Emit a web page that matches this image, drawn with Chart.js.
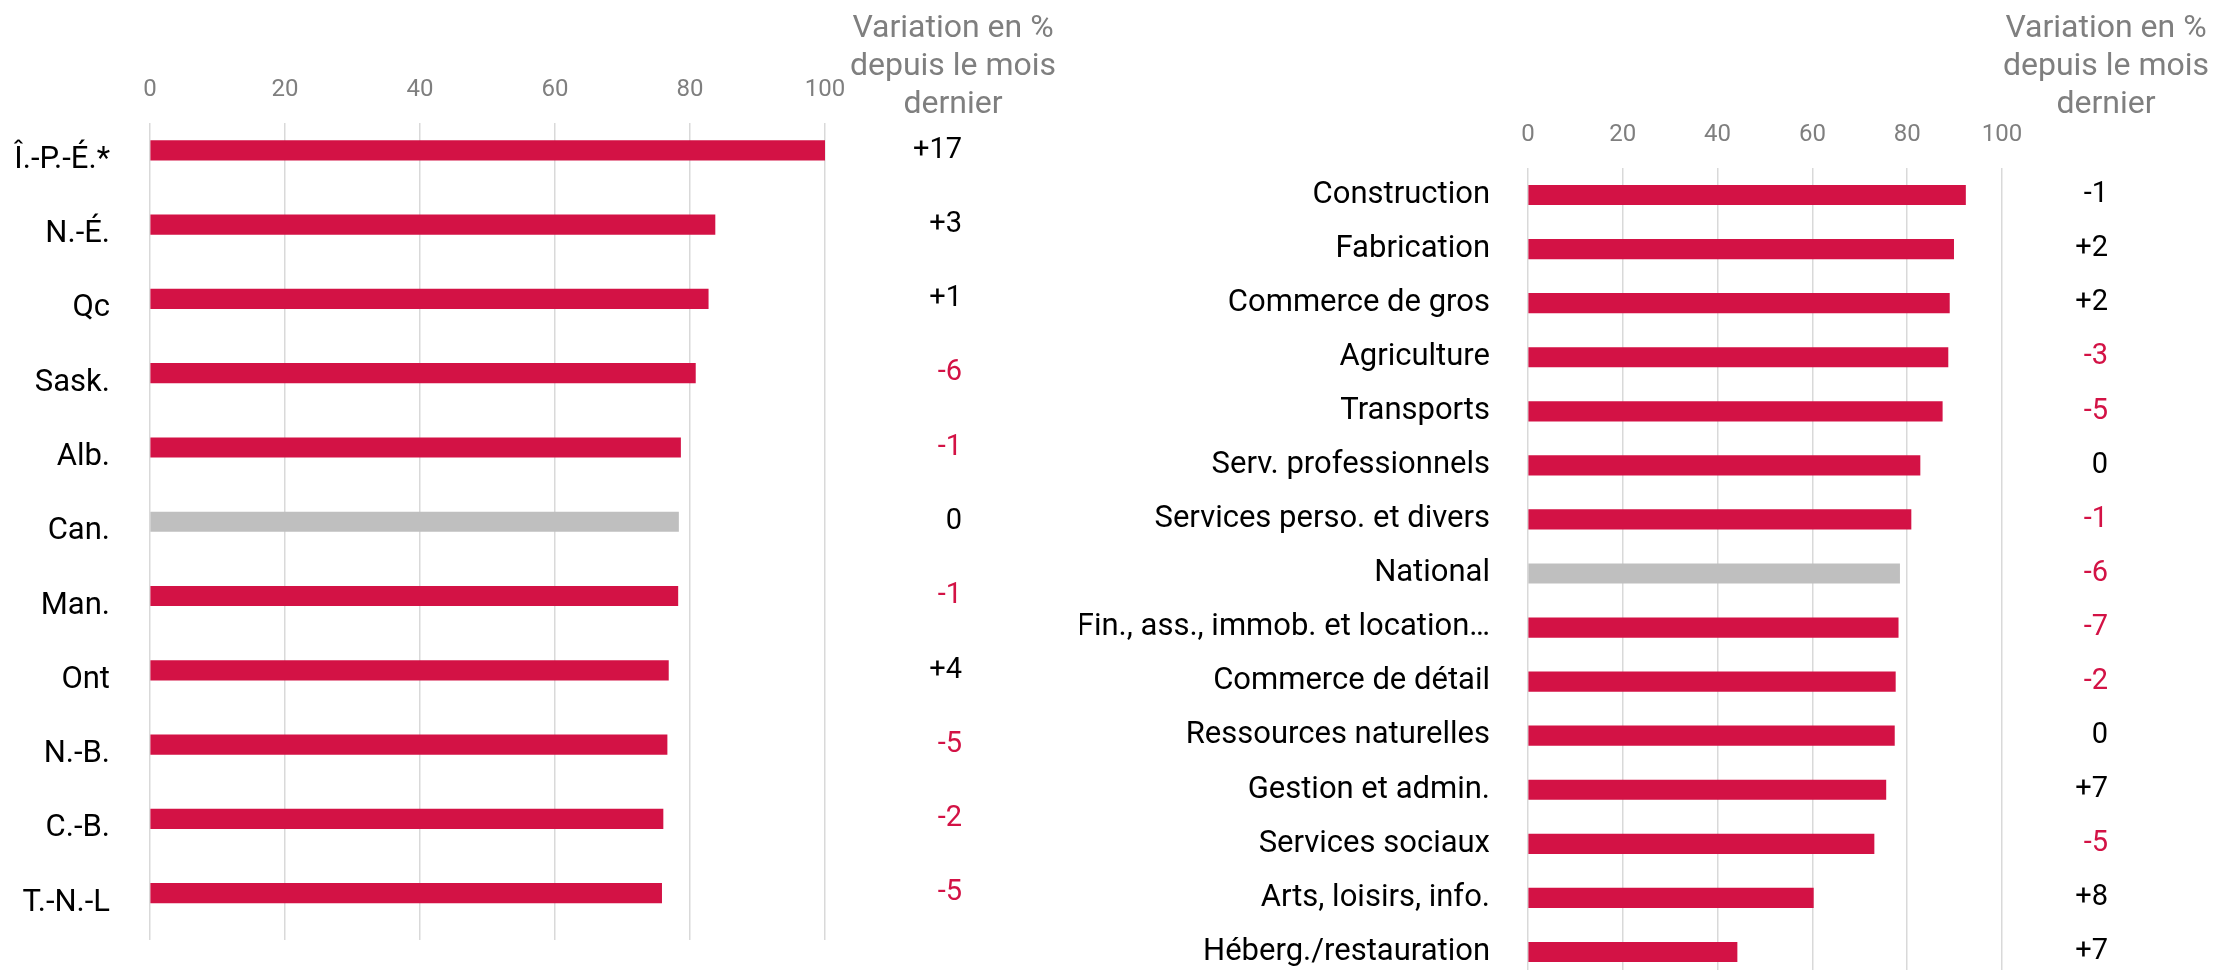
<!DOCTYPE html>
<html><head><meta charset="utf-8">
<script src="https://cdn.jsdelivr.net/npm/chart.js@4"></script>
<style>
html,body{margin:0;padding:0;background:#fff;overflow:hidden;}
#wrap{position:relative;width:2216px;height:970px;overflow:hidden;}
#c1{position:absolute;left:0;top:0;}
#c2{position:absolute;left:1080px;top:0;}
</style></head><body>
<div id="wrap">
<canvas id="c1" width="1080" height="970"></canvas>
<canvas id="c2" width="1136" height="1000"></canvas>
</div>
<script>
// ---- Data ----
const provinces = ['Î.-P.-É.*','N.-É.','Qc','Sask.','Alb.','Can.','Man.','Ont','N.-B.','C.-B.','T.-N.-L'];
const provinceLevels = [100, 83.7, 82.7, 80.8, 78.6, 78.3, 78.2, 76.8, 76.6, 76.0, 75.8];
const provinceChanges = [17, 3, 1, -6, -1, 0, -1, 4, -5, -2, -5];
const provinceDeclines = [false, false, false, true, true, false, true, false, true, true, true];
const provinceHighlight = 'Can.';

const sectors = ['Construction','Fabrication','Commerce de gros','Agriculture','Transports','Serv. professionnels','Services perso. et divers','National','Fin., ass., immob. et location…','Commerce de détail','Ressources naturelles','Gestion et admin.','Services sociaux','Arts, loisirs, info.','Héberg./restauration'];
const sectorLevels = [92.3, 89.8, 88.9, 88.6, 87.4, 82.7, 80.8, 78.4, 78.1, 77.5, 77.3, 75.5, 73.0, 60.2, 44.1];
const sectorChanges = [-1, 2, 2, -3, -5, 0, -1, -6, -7, -2, 0, 7, -5, 8, 7];
const sectorDeclines = [false, false, false, true, true, false, true, true, true, true, false, false, true, false, false];
const sectorHighlight = 'National';

const axisTicks = [0, 20, 40, 60, 80, 100];
const headerLines = ['Variation en %', 'depuis le mois', 'dernier'];

// ---- Styles ----
const RED = '#d31245';
const GRAY = '#bfbfbf';
const FONT = 'Roboto';

function fmtChange(v){ return v > 0 ? '+' + v : String(v); }

const changeColumn = {
  id: 'changeColumn',
  afterDraw(chart, args, o) {
    const ctx = chart.ctx;
    const bars = chart.getDatasetMeta(0).data;
    ctx.save();
    ctx.font = '32px ' + FONT;
    ctx.fillStyle = '#7f7f7f';
    ctx.textAlign = 'center';
    ctx.textBaseline = 'alphabetic';
    o.header.forEach((t, i) => ctx.fillText(t, o.headerX, o.headerY0 + i * o.headerGap));
    ctx.font = '29px ' + FONT;
    ctx.textAlign = 'right';
    ctx.textBaseline = 'middle';
    o.values.forEach((v, i) => {
      ctx.fillStyle = o.declines[i] ? RED : '#000000';
      ctx.fillText(fmtChange(v), o.valueX, bars[i].y);
    });
    ctx.restore();
  }
};

function makeChart(id, labels, values, changes, declines, highlight, cfg) {
  const datasets = [{
    data: values,
    backgroundColor: labels.map(l => l === highlight ? GRAY : RED),
    borderWidth: 0,
    barThickness: 19.5
  }];
  // the province panel keeps an empty second series slot, so its bars sit in the upper half of each row
  if (cfg.spacerSeries) datasets.push({ data: [], borderWidth: 0, barThickness: 19.5 });
  return new Chart(document.getElementById(id), {
    type: 'bar',
    data: { labels: labels, datasets: datasets },
    options: {
      indexAxis: 'y',
      responsive: false,
      animation: false,
      layout: { padding: { left: 0, top: 0, right: cfg.padRight, bottom: cfg.padBottom } },
      plugins: {
        legend: { display: false },
        tooltip: { enabled: false },
        changeColumn: {
          header: headerLines, headerX: cfg.headerX, headerY0: 37, headerGap: 38,
          values: changes, declines: declines, valueX: cfg.valueX
        }
      },
      scales: {
        x: {
          position: 'top', min: 0, max: 100,
          afterBuildTicks: s => { s.ticks = axisTicks.map(v => ({ value: v })); },
          afterFit: s => { s.height = cfg.top; s.paddingLeft = 0; s.paddingRight = 0; },
          grid: { color: '#d9d9d9', lineWidth: 1.5, drawTicks: false },
          border: { display: false },
          ticks: { color: '#7f7f7f', font: { family: FONT, size: 24 }, padding: 19, maxRotation: 0 }
        },
        y: {
          afterFit: s => { s.width = cfg.left; s.paddingTop = 0; s.paddingBottom = 0; },
          grid: { display: false },
          border: { display: false },
          ticks: { color: '#000000', font: { family: FONT, size: 31 }, padding: cfg.labelPad, autoSkip: false }
        }
      }
    },
    plugins: [changeColumn]
  });
}

makeChart('c1', provinces, provinceLevels, provinceChanges, provinceDeclines, provinceHighlight,
  { left: 150, top: 123, padRight: 255, padBottom: 30, labelPad: 32, valueX: 962, headerX: 953, spacerSeries: true });
makeChart('c2', sectors, sectorLevels, sectorChanges, sectorDeclines, sectorHighlight,
  { left: 448, top: 168, padRight: 214, padBottom: 21, labelPad: 30, valueX: 1028, headerX: 1026, spacerSeries: false });
</script>
</body></html>
